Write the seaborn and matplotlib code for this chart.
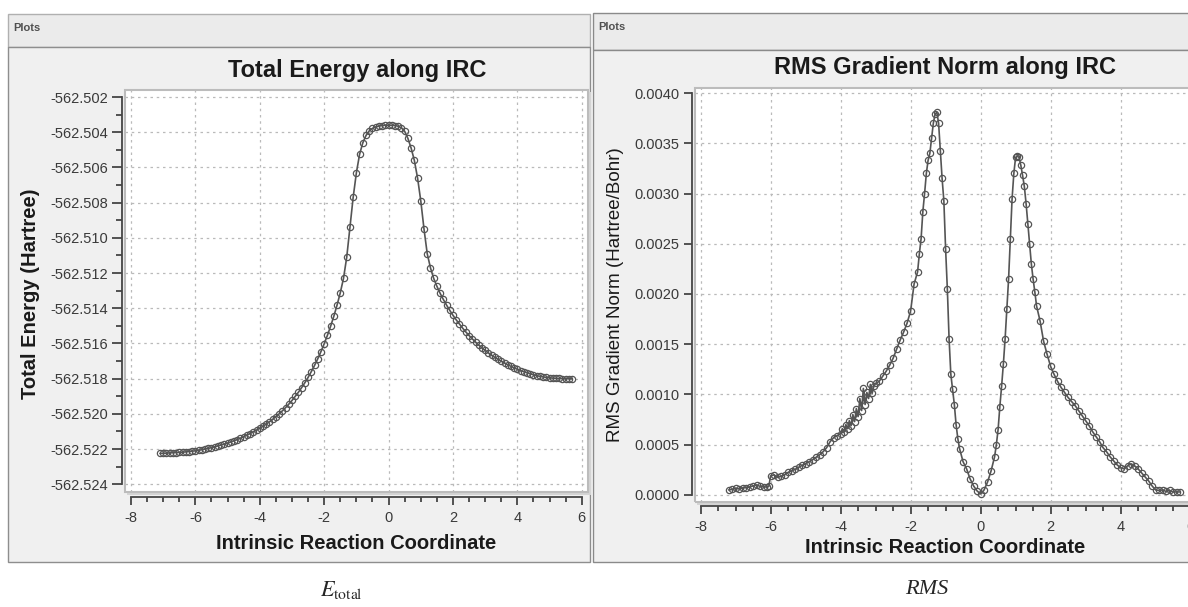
import matplotlib
matplotlib.use("Agg")
from matplotlib import pyplot as plt
from matplotlib.patches import Rectangle
from matplotlib.ticker import MultipleLocator, FormatStrFormatter
import pandas as pd
import seaborn as sns

# IRC coordinate and total energy (mHartree relative to -562.5 Hartree)
irc_energy = [
    -7.1, -7.0, -6.9, -6.8, -6.7, -6.6, -6.5, -6.4, -6.3, -6.2,
    -6.1, -6.0, -5.9, -5.8, -5.7, -5.6, -5.5, -5.4, -5.3, -5.2,
    -5.1, -5.0, -4.9, -4.8, -4.7, -4.6, -4.5, -4.4, -4.3, -4.2,
    -4.1, -4.0, -3.9, -3.8, -3.7, -3.6, -3.5, -3.4, -3.3, -3.2,
    -3.1, -3.0, -2.9, -2.8, -2.7, -2.6, -2.5, -2.4, -2.3, -2.2,
    -2.1, -2.0, -1.9, -1.8, -1.7, -1.6, -1.5, -1.4, -1.3, -1.2,
    -1.1, -1.0, -0.9, -0.8, -0.7, -0.6, -0.5, -0.4, -0.3, -0.2,
    -0.1, 0.0, 0.1, 0.2, 0.3, 0.4, 0.5, 0.6, 0.7, 0.8,
    0.9, 1.0, 1.1, 1.2, 1.3, 1.4, 1.5, 1.6, 1.7, 1.8,
    1.9, 2.0, 2.1, 2.2, 2.3, 2.4, 2.5, 2.6, 2.7, 2.8,
    2.9, 3.0, 3.1, 3.2, 3.3, 3.4, 3.5, 3.6, 3.7, 3.8,
    3.9, 4.0, 4.1, 4.2, 4.3, 4.4, 4.5, 4.6, 4.7, 4.8,
    4.9, 5.0, 5.1, 5.2, 5.3, 5.4, 5.5, 5.6, 5.7,
]
energy_mh = [
    -22.25, -22.24, -22.23, -22.22, -22.21, -22.20, -22.19, -22.18, -22.16, -22.14,
    -22.12, -22.10, -22.07, -22.04, -22.00, -21.96, -21.92, -21.87, -21.82, -21.77,
    -21.72, -21.66, -21.60, -21.53, -21.46, -21.38, -21.30, -21.21, -21.12, -21.02,
    -20.92, -20.82, -20.70, -20.58, -20.45, -20.31, -20.16, -20.00, -19.83, -19.65,
    -19.45, -19.24, -19.01, -18.77, -18.51, -18.23, -17.93, -17.60, -17.25, -16.87,
    -16.46, -16.02, -15.54, -15.02, -14.45, -13.82, -13.12, -12.30, -11.10, -9.40,
    -7.70, -6.30, -5.25, -4.60, -4.18, -3.92, -3.78, -3.70, -3.65, -3.62,
    -3.60, -3.60, -3.60, -3.62, -3.66, -3.75, -3.95, -4.35, -4.90, -5.60,
    -6.60, -7.90, -9.50, -10.90, -11.70, -12.30, -12.75, -13.15, -13.50, -13.82,
    -14.12, -14.40, -14.66, -14.90, -15.13, -15.35, -15.55, -15.74, -15.92, -16.09,
    -16.25, -16.40, -16.54, -16.67, -16.79, -16.90, -17.01, -17.11, -17.21, -17.30,
    -17.39, -17.47, -17.54, -17.61, -17.67, -17.73, -17.78, -17.83, -17.87, -17.90,
    -17.93, -17.95, -17.97, -17.98, -17.99, -18.00, -18.00, -18.01, -18.01,
]

# IRC coordinate and RMS gradient norm (1e-4 Hartree/Bohr)
irc_rms = [
    -7.2, -7.1, -7.0, -6.9, -6.8, -6.7, -6.6, -6.5, -6.4, -6.3,
    -6.2, -6.1, -6.05, -6.0, -5.9, -5.8, -5.7, -5.6, -5.5, -5.4,
    -5.3, -5.2, -5.1, -5.0, -4.9, -4.8, -4.7, -4.6, -4.5, -4.4,
    -4.3, -4.2, -4.1, -4.0, -3.95, -3.9, -3.85, -3.8, -3.75, -3.7,
    -3.65, -3.6, -3.55, -3.5, -3.45, -3.4, -3.35, -3.3, -3.25, -3.2,
    -3.15, -3.1, -3.05, -3.0, -2.9, -2.8, -2.7, -2.6, -2.5, -2.4,
    -2.3, -2.2, -2.1, -2.0, -1.9, -1.8, -1.75, -1.7, -1.65, -1.6,
    -1.55, -1.5, -1.45, -1.4, -1.35, -1.3, -1.25, -1.2, -1.15, -1.1,
    -1.05, -1.0, -0.95, -0.9, -0.85, -0.8, -0.75, -0.7, -0.65, -0.6,
    -0.5, -0.4, -0.3, -0.2, -0.1, 0.0, 0.1, 0.2, 0.3, 0.4,
    0.45, 0.5, 0.55, 0.6, 0.65, 0.7, 0.75, 0.8, 0.85, 0.9,
    0.95, 1.0, 1.05, 1.1, 1.15, 1.2, 1.25, 1.3, 1.35, 1.4,
    1.45, 1.5, 1.55, 1.6, 1.7, 1.8, 1.9, 2.0, 2.1, 2.2,
    2.3, 2.4, 2.5, 2.6, 2.7, 2.8, 2.9, 3.0, 3.1, 3.2,
    3.3, 3.4, 3.5, 3.6, 3.7, 3.8, 3.9, 4.0, 4.1, 4.2,
    4.3, 4.4, 4.5, 4.6, 4.7, 4.8, 4.9, 5.0, 5.1, 5.2,
    5.3, 5.4, 5.5, 5.6, 5.7,
]
rms_e4 = [
    0.5, 0.55, 0.65, 0.6, 0.7, 0.72, 0.8, 0.9, 1.0, 0.85,
    0.8, 0.8, 0.85, 1.9, 2.0, 1.75, 1.85, 2.0, 2.25, 2.4,
    2.55, 2.75, 2.95, 3.1, 3.3, 3.5, 3.75, 4.0, 4.3, 4.7,
    5.3, 5.7, 5.9, 6.1, 6.6, 6.3, 7.0, 6.6, 7.4, 6.9,
    8.0, 7.3, 8.6, 7.8, 9.6, 8.4, 10.6, 9.0, 10.2, 9.6,
    11.0, 10.1, 10.8, 11.1, 11.3, 11.8, 12.3, 12.9, 13.6, 14.5,
    15.4, 16.2, 17.1, 18.3, 21.0, 22.2, 24.0, 25.5, 28.2, 30.0,
    32.0, 33.3, 34.0, 35.5, 37.0, 37.9, 38.1, 37.0, 34.2, 31.5,
    29.3, 24.5, 20.5, 15.5, 12.0, 10.5, 9.0, 7.0, 5.6, 4.6,
    3.3, 2.6, 1.6, 0.9, 0.4, 0.1, 0.5, 1.3, 2.4, 3.8,
    5.0, 6.5, 8.8, 10.8, 13.0, 15.5, 18.5, 21.5, 25.5, 29.5,
    32.0, 33.6, 33.7, 33.6, 32.8, 31.8, 30.7, 29.0, 27.0, 25.0,
    23.0, 21.5, 20.2, 18.8, 17.3, 15.3, 14.0, 12.8, 12.0, 11.3,
    10.7, 10.2, 9.7, 9.3, 8.9, 8.4, 7.9, 7.4, 6.9, 6.3,
    5.8, 5.3, 4.7, 4.3, 3.8, 3.4, 3.0, 2.7, 2.6, 2.9,
    3.1, 2.9, 2.6, 2.2, 1.8, 1.4, 0.9, 0.5, 0.45, 0.5,
    0.35, 0.45, 0.3, 0.3, 0.3,
]

energy = pd.DataFrame({"IRC": irc_energy, "E": [-562.5 + v / 1000 for v in energy_mh]})
rms = pd.DataFrame({"IRC": irc_rms, "G": [v / 10000 for v in rms_e4]})

sns.set_style("white")
plt.rcParams['font.family'] = ['Liberation Sans', 'DejaVu Sans']
plt.rcParams['mathtext.fontset'] = 'stix'

W, H = 1188, 607
fig = plt.figure(figsize=(W / 100, H / 100), dpi=100)
fig.patch.set_facecolor('white')


def box(x0, y0, x1, y1, **kw):
    fig.patches.append(Rectangle((x0 / W, 1 - y1 / H), (x1 - x0) / W, (y1 - y0) / H,
                                 transform=fig.transFigure, zorder=-10, **kw))


# -----------------------------
# window frames

box(8, 14, 590, 47, fc='#ebebeb', ec='#b0b0b0', lw=1)
box(8, 47, 590, 562, fc='#f0f0f0', ec='#8e8e8e', lw=1)
box(593, 13, 1190, 50, fc='#ebebeb', ec='#8a8a8a', lw=1)
box(593, 50, 1190, 562, fc='#f0f0f0', ec='#8a8a8a', lw=1)
box(127, 92, 591, 495, fc='#d4d4d4', ec='none')
box(697, 90, 1200, 505, fc='#d4d4d4', ec='none')
fig.text(13 / W, 1 - 28 / H, "Plots", fontsize=8, fontweight='bold', color='#505050', va='center')
fig.text(598 / W, 1 - 27 / H, "Plots", fontsize=8, fontweight='bold', color='#505050', va='center')

ax1 = fig.add_axes([125 / W, 1 - 492 / H, 463 / W, 402 / H])
ax2 = fig.add_axes([695 / W, 1 - 502 / H, 505 / W, 414 / H])


def style(ax, out_x):
    ax.set_facecolor('white')
    ax.set_axisbelow(True)
    for s in ['top', 'right']:
        ax.spines[s].set_visible(False)
    ax.spines['left'].set_position(('outward', 2.2))
    ax.spines['bottom'].set_position(('outward', out_x))
    for s in ['left', 'bottom']:
        ax.spines[s].set_color('#454545')
        ax.spines[s].set_linewidth(1.3)
    ax.add_patch(Rectangle((0, 0), 1, 1, transform=ax.transAxes, fill=False,
                           ec='#bcbcbc', lw=1.5, clip_on=False, zorder=1.5))
    ax.grid(True, which='major', color='#bababa', lw=0.9, ls=(0, (2, 3)))
    ax.xaxis.set_major_locator(MultipleLocator(2))
    ax.xaxis.set_minor_locator(MultipleLocator(0.5))
    ax.xaxis.set_major_formatter(FormatStrFormatter('%d'))
    ax.spines['bottom'].set_bounds(-8, 6)
    ax.tick_params(axis='both', which='both', bottom=True, left=True,
                   color='#454545', width=1.3,
                   labelcolor='#3a3a3a', labelsize=10.5, direction='out')
    ax.tick_params(axis='x', which='major', length=6, pad=4)
    ax.tick_params(axis='x', which='minor', length=3.5)
    ax.tick_params(axis='y', which='major', length=7, pad=3)
    ax.tick_params(axis='y', which='minor', length=4.5)


# -----------------------------
# total energy

sns.lineplot(data=energy, x='IRC', y='E', ax=ax1, sort=False, estimator=None,
             color='#555555', lw=1.2, marker='o', markersize=4.5,
             markerfacecolor='none', markeredgecolor='#555555', markeredgewidth=0.9)
style(ax1, 3.6)
ax1.set_xlim(-8.186, 6.193)
ax1.set_ylim(-562.52444, -562.5016)
ax1.yaxis.set_major_locator(MultipleLocator(0.002))
ax1.yaxis.set_minor_locator(MultipleLocator(0.001))
ax1.yaxis.set_major_formatter(FormatStrFormatter('%.3f'))
ax1.spines['left'].set_bounds(-562.524, -562.502)
ax1.set_xlabel("Intrinsic Reaction Coordinate", fontsize=14.5, fontweight='bold',
               color='#1a1a1a', va='center')
ax1.xaxis.set_label_coords(0.5, -0.127)
ax1.set_ylabel("Total Energy (Hartree)", fontsize=14.5, fontweight='bold',
               color='#1a1a1a', va='center')
ax1.yaxis.set_label_coords(-0.205, 0.4925)
ax1.text(0.502, 1.032, "Total Energy along IRC", transform=ax1.transAxes,
         fontsize=17, fontweight='bold', color='#1a1a1a', ha='center', va='baseline')

# -----------------------------
# RMS gradient

sns.lineplot(data=rms, x='IRC', y='G', ax=ax2, sort=False, estimator=None,
             color='#555555', lw=1.2, marker='o', markersize=4.5,
             markerfacecolor='none', markeredgecolor='#555555', markeredgewidth=0.9)
style(ax2, 2.9)
ax2.set_xlim(-8.16, 6.269)
ax2.set_ylim(-0.00007, 0.00405)
ax2.yaxis.set_major_locator(MultipleLocator(0.0005))
ax2.yaxis.set_major_formatter(FormatStrFormatter('%.4f'))
ax2.spines['left'].set_bounds(0, 0.004)
ax2.tick_params(axis='y', which='major', length=6)
ax2.set_xlabel("Intrinsic Reaction Coordinate", fontsize=14.5, fontweight='bold',
               color='#1a1a1a', va='center')
ax2.xaxis.set_label_coords(0.496, -0.109)
ax2.set_ylabel("RMS Gradient Norm (Hartree/Bohr)", fontsize=13.5, color='#1a1a1a', va='center')
ax2.yaxis.set_label_coords(-0.158, 0.5)
ax2.text(0.495, 1.035, "RMS Gradient Norm along IRC", transform=ax2.transAxes,
         fontsize=17, fontweight='bold', color='#1a1a1a', ha='center', va='baseline')

# -----------------------------
# captions

fig.text(341 / W, 1 - 590 / H, r"$E_{\mathrm{total}}$", fontsize=16, ha='center', va='center')
fig.text(927 / W, 1 - 590 / H, "RMS", fontsize=16, ha='center', va='center',
         family='Liberation Serif', style='italic')

path = "out.png"
plt.savefig(path, dpi=100)
print(f"Saved figure to {path}.")
plt.close()
